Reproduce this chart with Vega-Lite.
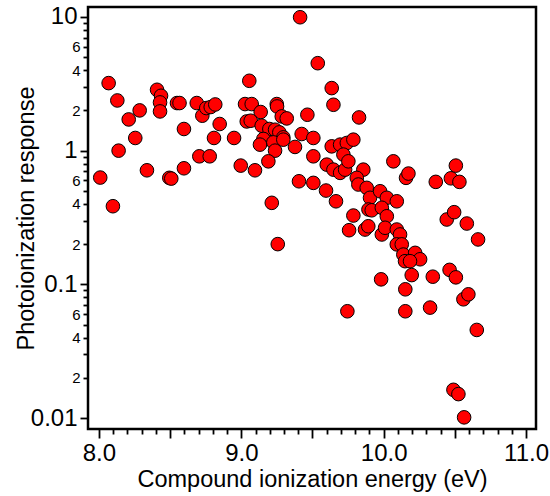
{
  "$schema": "https://vega.github.io/schema/vega-lite/v6.json",
  "width": 448,
  "height": 422,
  "autosize": {"type": "none"},
  "padding": {"left": 88, "top": 7, "right": 14, "bottom": 67},
  "background": "white",
  "config": {
    "view": {"stroke": "black", "strokeWidth": 2.5},
    "font": "Liberation Sans",
    "axis": {
      "grid": false,
      "domain": false,
      "tickColor": "black",
      "tickWidth": 1.8,
      "labelColor": "black",
      "titleColor": "black",
      "labelFont": "Liberation Sans",
      "titleFont": "Liberation Sans",
      "titleFontWeight": "normal",
      "titleFontSize": 23.5,
      "labelOverlap": false,
      "labelFlush": false,
      "labelBound": false
    }
  },
  "data": {
    "values": [
      {"ie": 8.009, "resp": 0.629},
      {"ie": 8.068, "resp": 3.20},
      {"ie": 8.098, "resp": 0.384},
      {"ie": 8.129, "resp": 2.374},
      {"ie": 8.138, "resp": 1.0},
      {"ie": 8.209, "resp": 1.712},
      {"ie": 8.255, "resp": 1.244},
      {"ie": 8.286, "resp": 2.0},
      {"ie": 8.337, "resp": 0.713},
      {"ie": 8.408, "resp": 2.853},
      {"ie": 8.436, "resp": 2.573},
      {"ie": 8.429, "resp": 2.294},
      {"ie": 8.429, "resp": 1.965},
      {"ie": 8.548, "resp": 2.27},
      {"ie": 8.566, "resp": 2.27},
      {"ie": 8.597, "resp": 1.452},
      {"ie": 8.494, "resp": 0.626},
      {"ie": 8.508, "resp": 0.618},
      {"ie": 8.597, "resp": 0.738},
      {"ie": 8.687, "resp": 2.27},
      {"ie": 8.726, "resp": 1.825},
      {"ie": 8.754, "resp": 2.083},
      {"ie": 8.785, "resp": 2.12},
      {"ie": 8.817, "resp": 2.216},
      {"ie": 8.848, "resp": 1.582},
      {"ie": 8.808, "resp": 1.244},
      {"ie": 8.705, "resp": 0.907},
      {"ie": 8.778, "resp": 0.907},
      {"ie": 8.949, "resp": 1.244},
      {"ie": 8.996, "resp": 0.773},
      {"ie": 9.056, "resp": 3.33},
      {"ie": 9.026, "resp": 2.231},
      {"ie": 9.073, "resp": 2.231},
      {"ie": 9.249, "resp": 2.231},
      {"ie": 9.251, "resp": 2.141},
      {"ie": 9.136, "resp": 1.945},
      {"ie": 9.038, "resp": 1.654},
      {"ie": 9.066, "resp": 1.674},
      {"ie": 9.143, "resp": 1.537},
      {"ie": 9.284, "resp": 1.803},
      {"ie": 9.319, "resp": 1.742},
      {"ie": 9.464, "resp": 1.856},
      {"ie": 9.197, "resp": 1.452},
      {"ie": 9.237, "resp": 1.434},
      {"ie": 9.267, "resp": 1.37},
      {"ie": 9.295, "resp": 1.257},
      {"ie": 9.155, "resp": 1.223},
      {"ie": 9.131, "resp": 1.109},
      {"ie": 9.225, "resp": 1.153},
      {"ie": 9.237, "resp": 1.0},
      {"ie": 9.295, "resp": 1.208},
      {"ie": 9.377, "resp": 1.066},
      {"ie": 9.424, "resp": 1.332},
      {"ie": 9.506, "resp": 1.244},
      {"ie": 9.506, "resp": 0.907},
      {"ie": 9.096, "resp": 0.713},
      {"ie": 9.19, "resp": 0.832},
      {"ie": 9.214, "resp": 0.407},
      {"ie": 9.256, "resp": 0.1999},
      {"ie": 9.405, "resp": 0.59},
      {"ie": 9.506, "resp": 0.574},
      {"ie": 9.595, "resp": 0.503},
      {"ie": 9.665, "resp": 0.418},
      {"ie": 9.787, "resp": 0.327},
      {"ie": 9.413, "resp": 9.95},
      {"ie": 9.537, "resp": 4.51},
      {"ie": 9.635, "resp": 2.937},
      {"ie": 9.647, "resp": 2.204},
      {"ie": 9.827, "resp": 1.772},
      {"ie": 9.635, "resp": 1.077},
      {"ie": 9.694, "resp": 1.109},
      {"ie": 9.741, "resp": 1.141},
      {"ie": 9.787, "resp": 1.208},
      {"ie": 9.717, "resp": 0.934},
      {"ie": 9.6, "resp": 0.786},
      {"ie": 9.647, "resp": 0.721},
      {"ie": 9.694, "resp": 0.682},
      {"ie": 9.729, "resp": 0.721},
      {"ie": 9.752, "resp": 0.832},
      {"ie": 9.857, "resp": 0.721},
      {"ie": 9.811, "resp": 0.626},
      {"ie": 9.822, "resp": 0.558},
      {"ie": 9.881, "resp": 0.527},
      {"ie": 9.904, "resp": 0.444},
      {"ie": 9.975, "resp": 0.497},
      {"ie": 10.022, "resp": 0.444},
      {"ie": 10.092, "resp": 0.418},
      {"ie": 9.893, "resp": 0.363},
      {"ie": 9.916, "resp": 0.358},
      {"ie": 9.987, "resp": 0.374},
      {"ie": 10.022, "resp": 0.323},
      {"ie": 9.757, "resp": 0.254},
      {"ie": 9.869, "resp": 0.257},
      {"ie": 9.892, "resp": 0.272},
      {"ie": 9.987, "resp": 0.236},
      {"ie": 10.01, "resp": 0.265},
      {"ie": 10.092, "resp": 0.257},
      {"ie": 10.115, "resp": 0.236},
      {"ie": 10.092, "resp": 0.199},
      {"ie": 10.127, "resp": 0.199},
      {"ie": 10.138, "resp": 0.167},
      {"ie": 10.15, "resp": 0.149},
      {"ie": 10.221, "resp": 0.172},
      {"ie": 10.256, "resp": 0.154},
      {"ie": 10.185, "resp": 0.149},
      {"ie": 10.068, "resp": 0.832},
      {"ie": 10.157, "resp": 0.626},
      {"ie": 10.174, "resp": 0.674},
      {"ie": 10.366, "resp": 0.584},
      {"ie": 10.472, "resp": 0.621},
      {"ie": 10.507, "resp": 0.773},
      {"ie": 10.532, "resp": 0.584},
      {"ie": 10.443, "resp": 0.3055},
      {"ie": 10.495, "resp": 0.3465},
      {"ie": 10.584, "resp": 0.285},
      {"ie": 10.663, "resp": 0.2167},
      {"ie": 10.463, "resp": 0.1283},
      {"ie": 10.345, "resp": 0.1141},
      {"ie": 10.507, "resp": 0.1128},
      {"ie": 10.197, "resp": 0.1173},
      {"ie": 9.982, "resp": 0.109},
      {"ie": 9.745, "resp": 0.0629},
      {"ie": 10.152, "resp": 0.0918},
      {"ie": 10.152, "resp": 0.0629},
      {"ie": 10.326, "resp": 0.067},
      {"ie": 10.56, "resp": 0.0773},
      {"ie": 10.595, "resp": 0.0842},
      {"ie": 10.654, "resp": 0.0456},
      {"ie": 10.49, "resp": 0.01626},
      {"ie": 10.525, "resp": 0.0151},
      {"ie": 10.565, "resp": 0.01012}
    ]
  },
  "mark": {"type": "point", "shape": "circle", "filled": true, "fill": "#ff0000", "stroke": "black", "strokeWidth": 1, "opacity": 1, "size": 185},
  "encoding": {
    "x": {
      "field": "ie",
      "type": "quantitative",
      "scale": {"domain": [7.923, 11.07], "nice": false, "zero": false},
      "axis": {
        "title": "Compound ionization energy (eV)",
        "values": [8.0, 8.1, 8.2, 8.3, 8.4, 8.5, 8.6, 8.7, 8.8, 8.9, 9.0, 9.1, 9.2, 9.3, 9.4, 9.5, 9.6, 9.7, 9.8, 9.9, 10.0, 10.1, 10.2, 10.3, 10.4, 10.5, 10.6, 10.7, 10.8, 10.9, 11.0],
        "labelExpr": "abs(datum.value - round(datum.value)) < 1e-6 ? format(datum.value, '.1f') : ''",
        "labelFontSize": 24,
        "labelPadding": 3,
        "tickSize": {"condition": {"test": "abs(datum.value * 2 - round(datum.value * 2)) < 1e-6", "value": 9}, "value": 5},
        "titlePadding": 2
      }
    },
    "y": {
      "field": "resp",
      "type": "quantitative",
      "scale": {"type": "log", "domain": [0.00828, 11.87], "nice": false},
      "axis": {
        "title": "Photoionization response",
        "values": [0.01, 0.02, 0.03, 0.04, 0.05, 0.06, 0.07, 0.08, 0.09, 0.1, 0.2, 0.3, 0.4, 0.5, 0.6, 0.7, 0.8, 0.9, 1, 2, 3, 4, 5, 6, 7, 8, 9, 10],
        "labelExpr": "round(datum.value / pow(10, floor(log(datum.value) / LN10 + 1e-9))) == 1 ? format(datum.value, '~g') : (indexof([2, 4, 6], round(datum.value / pow(10, floor(log(datum.value) / LN10 + 1e-9)))) >= 0 ? format(round(datum.value / pow(10, floor(log(datum.value) / LN10 + 1e-9))), 'd') : '')",
        "labelFontSize": {"condition": {"test": "abs(log(datum.value) / LN10 - round(log(datum.value) / LN10)) < 1e-6", "value": 24}, "value": 15},
        "tickSize": {"condition": {"test": "abs(log(datum.value) / LN10 - round(log(datum.value) / LN10)) < 1e-6", "value": 8}, "value": 5},
        "labelPadding": 3,
        "titlePadding": -8
      }
    }
  }
}
